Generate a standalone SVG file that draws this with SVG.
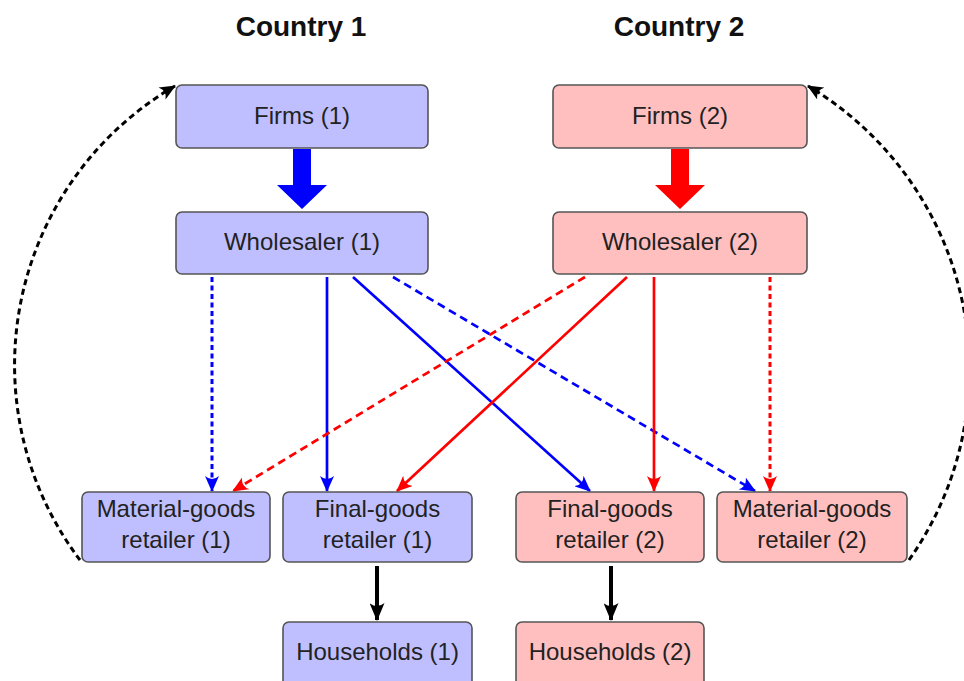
<svg xmlns="http://www.w3.org/2000/svg" width="964" height="681" viewBox="0 0 964 681">
<style>
.b1{fill:#bfbfff;stroke:#555;stroke-width:1.6}
.b2{fill:#ffbfbf;stroke:#555;stroke-width:1.6}
.t{font-family:"Liberation Sans",Arial,sans-serif;font-size:24px;fill:#222;text-anchor:middle}
.h{font-family:"Liberation Sans",Arial,sans-serif;font-size:28px;font-weight:bold;fill:#111;text-anchor:middle}
.e{fill:none;stroke-width:2.7}
.bl{stroke:#0000ff}
.rd{stroke:#ff0000}
.dot{stroke-dasharray:5 3.5;stroke-width:3}
.dash{stroke-dasharray:8 5}
.arc{fill:none;stroke:#000;stroke-width:3;stroke-dasharray:6 4}
</style>
<defs>
<marker id="mb" viewBox="0 0 16 14" refX="15" refY="7" markerWidth="16" markerHeight="14" markerUnits="userSpaceOnUse" orient="auto"><path d="M16 7 L0 0 Q6 7 0 14 Z" fill="#0000ff"/></marker>
<marker id="mr" viewBox="0 0 16 14" refX="15" refY="7" markerWidth="16" markerHeight="14" markerUnits="userSpaceOnUse" orient="auto"><path d="M16 7 L0 0 Q6 7 0 14 Z" fill="#ff0000"/></marker>
<marker id="mk" viewBox="0 0 16 14" refX="15" refY="7" markerWidth="16" markerHeight="14" markerUnits="userSpaceOnUse" orient="auto"><path d="M16 7 L0 0 Q6 7 0 14 Z" fill="#000"/></marker>
<marker id="mk2" viewBox="0 0 18 15" refX="17" refY="7.5" markerWidth="18" markerHeight="15" markerUnits="userSpaceOnUse" orient="auto"><path d="M18 7.5 L0 0 Q6 7.5 0 15 Z" fill="#000"/></marker>
</defs>
<text class="h" x="301" y="36">Country 1</text>
<text class="h" x="679" y="36">Country 2</text>
<g id="connectors">
<polygon points="293,149 311,149 311,185 327,185 302,209 277,185 293,185" fill="#0000ff"/>
<polygon points="671,149 689,149 689,185 705,185 680,209 655,185 671,185" fill="#ff0000"/>
<path class="e bl dot" d="M212 277 L212 491" marker-end="url(#mb)"/>
<path class="e bl" d="M327 277 L327 491" marker-end="url(#mb)"/>
<path class="e bl" d="M353 277 L590 491" marker-end="url(#mb)"/>
<path class="e bl dash" d="M393 277 L755 491" marker-end="url(#mb)"/>
<path class="e rd dash" d="M585 277 L233 491" marker-end="url(#mr)"/>
<path class="e rd" d="M627 277 L397 491" marker-end="url(#mr)"/>
<path class="e rd" d="M654 277 L654 491" marker-end="url(#mr)"/>
<path class="e rd dot" d="M770 277 L770 491" marker-end="url(#mr)"/>
<path d="M377 566 L377 620" fill="none" stroke="#000" stroke-width="4" marker-end="url(#mk2)"/>
<path d="M611 566 L611 620" fill="none" stroke="#000" stroke-width="4" marker-end="url(#mk2)"/>
<path class="arc" d="M80 560 A323 323 0 0 1 175 86" marker-end="url(#mk)"/>
<path class="arc" d="M909 560 A330 330 0 0 0 808 86" marker-end="url(#mk)"/>
</g>
<g id="firms1"><rect class="b1" x="176" y="85" width="252" height="63" rx="6"/><text class="t" x="302" y="124">Firms (1)</text></g>
<g id="firms2"><rect class="b2" x="553" y="85" width="254" height="63" rx="6"/><text class="t" x="680" y="124">Firms (2)</text></g>
<g id="wholesaler1"><rect class="b1" x="176" y="212" width="252" height="62" rx="6"/><text class="t" x="302" y="250">Wholesaler (1)</text></g>
<g id="wholesaler2"><rect class="b2" x="553" y="212" width="254" height="62" rx="6"/><text class="t" x="680" y="250">Wholesaler (2)</text></g>
<g id="material1"><rect class="b1" x="82" y="492" width="188" height="70" rx="6"/><text class="t" x="176" y="517">Material-goods</text><text class="t" x="176" y="548">retailer (1)</text></g>
<g id="final1"><rect class="b1" x="283" y="492" width="189" height="70" rx="6"/><text class="t" x="377.5" y="517">Final-goods</text><text class="t" x="377.5" y="548">retailer (1)</text></g>
<g id="final2"><rect class="b2" x="516" y="492" width="188" height="70" rx="6"/><text class="t" x="610" y="517">Final-goods</text><text class="t" x="610" y="548">retailer (2)</text></g>
<g id="material2"><rect class="b2" x="717" y="492" width="190" height="70" rx="6"/><text class="t" x="812" y="517">Material-goods</text><text class="t" x="812" y="548">retailer (2)</text></g>
<g id="households1"><rect class="b1" x="283" y="622" width="189" height="70" rx="6"/><text class="t" x="377.5" y="660">Households (1)</text></g>
<g id="households2"><rect class="b2" x="516" y="622" width="188" height="70" rx="6"/><text class="t" x="610" y="660">Households (2)</text></g>
</svg>
